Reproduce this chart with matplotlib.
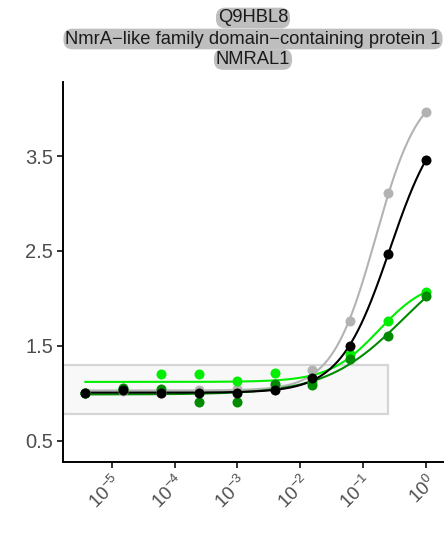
import numpy as np
import matplotlib
matplotlib.use("Agg")
import matplotlib.pyplot as plt
from matplotlib.patches import Rectangle
from matplotlib.ticker import NullLocator

plt.rcParams['font.family'] = ['Liberation Sans', 'DejaVu Sans']
plt.rcParams['mathtext.fontset'] = 'custom'
plt.rcParams['mathtext.rm'] = 'Liberation Sans'
plt.rcParams['mathtext.it'] = 'Liberation Sans'

# concentrations (4-fold dilution series)
conc = [1.0, 0.25, 0.0625, 0.015625, 0.00390625, 0.0009765625,
        0.000244140625, 6.103515625e-05, 1.52587890625e-05, 3.814697265625e-06]

gray_vals = [3.96, 3.11, 1.76, 1.25, 1.08, 1.05, 1.04, 1.00, 1.02, 1.00]
brightgreen_vals = [2.07, 1.76, 1.41, 1.12, 1.21, 1.13, 1.20, 1.20, 1.05, 1.00]
darkgreen_vals = [2.02, 1.60, 1.36, 1.09, 1.10, 0.91, 0.91, 1.05, 1.06, 1.00]
black_vals = [3.46, 2.47, 1.50, 1.16, 1.03, 1.00, 1.00, 1.00, 1.04, 1.00]

series = [
    ("gray", gray_vals, "#B3B3B3"),
    ("brightgreen", brightgreen_vals, "#00EE00"),
    ("darkgreen", darkgreen_vals, "#008B00"),
    ("black", black_vals, "#000000"),
]

title_lines = ["Q9HBL8", "NmrA\u2212like family domain\u2212containing protein 1", "NMRAL1"]
yticks = [0.5, 1.5, 2.5, 3.5]
xticks = [1e-5, 1e-4, 1e-3, 1e-2, 1e-1, 1]
xticklabels = [r"$10^{-5}$", r"$10^{-4}$", r"$10^{-3}$", r"$10^{-2}$", r"$10^{-1}$", r"$10^{0}$"]
box_x_right = 0.25
box_y = (0.78, 1.30)


def fit4(x, y):
    x = np.asarray(x); y = np.asarray(y)
    lx = np.log10(x)
    best = None
    for le in np.linspace(-3, 1.5, 181):
        for h in np.linspace(0.3, 4, 75):
            f = 1.0 / (1.0 + 10 ** (h * (le - lx)))
            A = np.column_stack([1 - f, f])
            coef, *_ = np.linalg.lstsq(A, y, rcond=None)
            sse = ((A @ coef - y) ** 2).sum()
            if best is None or sse < best[0]:
                best = (sse, coef[0], coef[1], le, h)
    return best[1:]


fig = plt.figure(figsize=(4.48, 5.33), dpi=100)
ax = fig.add_axes([63 / 448, 1 - 462.3 / 533, 380 / 448, (462.3 - 82) / 533])

xlim = (10 ** -5.774, 10 ** 0.27)
ax.set_xscale('log')
ax.set_xlim(*xlim)
ax.set_ylim(0.273, 4.28)

ax.add_patch(Rectangle((xlim[0], box_y[0]), box_x_right - xlim[0], box_y[1] - box_y[0],
                       facecolor='#F7F7F7', edgecolor='#CCCCCC', linewidth=1.6,
                       alpha=0.8, zorder=1))

xs = np.logspace(np.log10(min(conc)), np.log10(max(conc)), 300)
for i, (name, vals, col) in enumerate(series):
    b, t, le, h = fit4(conc, vals)
    yc = b + (t - b) / (1 + 10 ** (h * (le - np.log10(xs))))
    ax.plot(xs, yc, color=col, lw=1.5, zorder=2 + i)
    ax.scatter(conc, vals, s=52, color=col, zorder=6 + i, linewidths=0)

ax.set_yticks(yticks)
ax.set_yticklabels([f"{v:.1f}" for v in yticks])
ax.set_xticks(xticks)
ax.set_xticklabels(xticklabels)
ax.xaxis.set_minor_locator(NullLocator())

for sp in ['top', 'right']:
    ax.spines[sp].set_visible(False)
for sp in ['left', 'bottom']:
    ax.spines[sp].set_linewidth(1.4)
ax.tick_params(axis='both', direction='out', length=4, width=1.4, color='#333333',
               labelcolor='#4D4D4D')
ax.tick_params(axis='y', labelsize=14.5, pad=3)
ax.tick_params(axis='x', labelsize=13.5, pad=3)
for lbl in ax.get_xticklabels():
    lbl.set_rotation(45)
    lbl.set_ha('right')
    lbl.set_va('top')
    lbl.set_rotation_mode('anchor')

cx = (63 + 443) / 2 / 448
for yy, txt in zip([18, 39, 59.5], title_lines):
    fig.text(cx, 1 - yy / 533, txt, ha='center', va='center', fontsize=13.2, color='#1A1A1A',
             bbox=dict(boxstyle='round,pad=0.1,rounding_size=0.5', fc='#BEBEBE', ec='none'))

fig.savefig('out.png', dpi=100, facecolor='white')
